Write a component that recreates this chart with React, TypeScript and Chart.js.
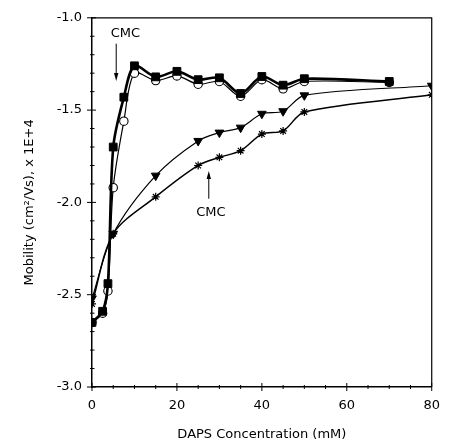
import React, { useEffect, useRef } from "react";
import { Chart, registerables } from "chart.js";

Chart.register(...registerables);

// Filled squares
const sqX = [0, 2.5, 3.75, 5, 7.5, 10, 15, 20, 25, 30, 35, 40, 45, 50, 70];
const sqY = [-2.65, -2.59, -2.44, -1.70, -1.43, -1.26, -1.32, -1.29, -1.335, -1.325, -1.41, -1.318, -1.365, -1.33, -1.345];
// Open circles
const circX = [0, 2.5, 3.75, 5, 7.5, 10, 15, 20, 25, 30, 35, 40, 45, 50, 70];
const circY = [-2.65, -2.6, -2.48, -1.92, -1.56, -1.30, -1.34, -1.315, -1.36, -1.345, -1.425, -1.335, -1.385, -1.345, -1.35];
// Filled down triangles
const triX = [0, 5, 15, 25, 30, 35, 40, 45, 50, 80];
const triY = [-2.52, -2.17, -1.855, -1.667, -1.622, -1.595, -1.52, -1.506, -1.42, -1.368];
// Stars
const starX = [0, 5, 15, 25, 30, 35, 40, 45, 50, 80];
const starY = [-2.55, -2.17, -1.97, -1.80, -1.756, -1.72, -1.63, -1.613, -1.51, -1.417];

const xMajor = [0, 20, 40, 60, 80];
const xMinor = [5, 10, 15, 25, 30, 35, 45, 50, 55, 65, 70, 75];
const yMajor = [-3.0, -2.5, -2.0, -1.5, -1.0];
const yMinor = [-2.9, -2.8, -2.7, -2.6, -2.4, -2.3, -2.2, -2.1, -1.9, -1.8, -1.7, -1.6, -1.4, -1.3, -1.2, -1.1];

// CMC annotations: [textX, textY, arrowX, arrowFromY, arrowToY]
const cmcNotes = [
  [7.85, -1.086, 5.7, -1.14, -1.343],
  [28, -2.056, 27.5, -1.98, -1.83],
];

const FONT = "'DejaVu Sans', sans-serif";

const zip = (xs: number[], ys: number[]) => xs.map((x, i) => ({ x, y: ys[i] }));

const decorPlugin = {
  id: "decor",
  afterDatasetsDraw(chart: any) {
    const { ctx, chartArea: a, scales } = chart;
    const xs = scales.x;
    const ys = scales.y;
    ctx.save();
    ctx.strokeStyle = "#000";
    ctx.fillStyle = "#000";
    // frame top & right
    ctx.lineWidth = 1.2;
    ctx.beginPath();
    ctx.moveTo(a.left, a.top);
    ctx.lineTo(a.right, a.top);
    ctx.lineTo(a.right, a.bottom);
    ctx.stroke();
    // ticks
    ctx.lineWidth = 1;
    ctx.beginPath();
    xMajor.forEach((v) => {
      const p = xs.getPixelForValue(v);
      ctx.moveTo(p, a.bottom - 4);
      ctx.lineTo(p, a.bottom + 4);
    });
    xMinor.forEach((v) => {
      const p = xs.getPixelForValue(v);
      ctx.moveTo(p, a.bottom - 2);
      ctx.lineTo(p, a.bottom + 2);
    });
    yMajor.forEach((v) => {
      const p = ys.getPixelForValue(v);
      ctx.moveTo(a.left - 5, p);
      ctx.lineTo(a.left + 4, p);
    });
    yMinor.forEach((v) => {
      const p = ys.getPixelForValue(v);
      ctx.moveTo(a.left - 2, p);
      ctx.lineTo(a.left + 2.5, p);
    });
    ctx.stroke();
    // CMC annotations
    ctx.font = `13px ${FONT}`;
    ctx.textAlign = "center";
    ctx.textBaseline = "middle";
    cmcNotes.forEach(([tx, ty, ax, ay0, ay1]) => {
      ctx.fillText("CMC", xs.getPixelForValue(tx), ys.getPixelForValue(ty));
      const px = xs.getPixelForValue(ax);
      const p0 = ys.getPixelForValue(ay0);
      const p1 = ys.getPixelForValue(ay1);
      const dir = p1 > p0 ? 1 : -1;
      ctx.lineWidth = 1;
      ctx.beginPath();
      ctx.moveTo(px, p0);
      ctx.lineTo(px, p1 - dir * 6);
      ctx.stroke();
      ctx.beginPath();
      ctx.moveTo(px, p1);
      ctx.lineTo(px - 2.2, p1 - dir * 8);
      ctx.lineTo(px + 2.2, p1 - dir * 8);
      ctx.closePath();
      ctx.fill();
    });
    ctx.restore();
  },
};

export default function App() {
  const ref = useRef<HTMLCanvasElement>(null);
  useEffect(() => {
    if (!ref.current) return;
    const common = { showLine: true, borderColor: "#000", pointBorderColor: "#000", tension: 0.3 };
    const chart = new Chart(ref.current, {
      type: "scatter",
      data: {
        datasets: [
          {
            ...common,
            data: zip(sqX, sqY),
            borderWidth: 2.6,
            pointStyle: "rect",
            pointRadius: 5.5,
            pointBorderWidth: 1,
            pointBackgroundColor: "#000",
          },
          {
            ...common,
            data: zip(circX, circY),
            borderWidth: 1.2,
            pointStyle: "circle",
            pointRadius: 4.2,
            pointBorderWidth: 1.1,
            pointBackgroundColor: "#fff",
          },
          {
            ...common,
            data: zip(triX, triY),
            borderWidth: 1.2,
            pointStyle: "triangle",
            rotation: 180,
            pointRadius: 5,
            pointBorderWidth: 1,
            pointBackgroundColor: "#000",
          },
          {
            ...common,
            data: zip(starX, starY),
            borderWidth: 1.5,
            pointStyle: "star",
            pointRadius: 4,
            pointBorderWidth: 1.2,
            pointBackgroundColor: "#000",
          },
        ],
      } as any,
      plugins: [decorPlugin],
      options: {
        animation: false,
        responsive: false,
        events: [],
        layout: { padding: { left: 0, right: 13, top: 14, bottom: 0 } },
        plugins: { legend: { display: false }, tooltip: { enabled: false } },
        scales: {
          x: {
            type: "linear",
            min: 0,
            max: 80,
            afterFit: (s: any) => { s.height = 55; },
            grid: { drawOnChartArea: false, drawTicks: false },
            border: { display: true, color: "#000", width: 1.5 },
            ticks: { stepSize: 20, padding: 11, color: "#000", font: { family: FONT, size: 13 } },
            title: {
              display: true,
              text: "DAPS Concentration (mM)",
              color: "#000",
              font: { family: FONT, size: 13 },
              padding: { top: 0, bottom: 0 },
            },
          },
          y: {
            type: "linear",
            min: -3,
            max: -1,
            afterFit: (s: any) => { s.width = 92; },
            grid: { drawOnChartArea: false, drawTicks: false },
            border: { display: true, color: "#000", width: 1.5 },
            ticks: {
              stepSize: 0.5,
              padding: 10,
              color: "#000",
              font: { family: FONT, size: 13 },
              callback: (v: any) => Number(v).toFixed(1),
            },
            title: {
              display: true,
              text: "Mobility (cm²/Vs), x 1E+4",
              color: "#000",
              font: { family: FONT, size: 13 },
              padding: { top: 22, bottom: 0 },
            },
          },
        },
      } as any,
    });
    return () => chart.destroy();
  }, []);
  return (
    <div style={{ position: "fixed", left: 0, top: 0, width: 451, height: 442, background: "#fff" }}>
      <canvas ref={ref} width={451} height={442} />
    </div>
  );
}
